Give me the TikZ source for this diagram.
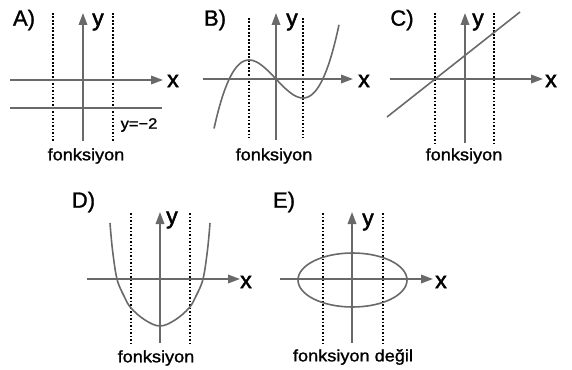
\documentclass[tikz,border=0pt]{standalone}
\usepackage{fontspec}
\setmainfont{Liberation Sans}
\newfontfamily\capfont[FakeStretch=1.1, FakeBold=1.3]{Liberation Sans}
\newfontfamily\headfont[FakeBold=1.3]{Liberation Sans}
\newfontfamily\axfont[FakeBold=2.2]{Liberation Sans}
\usetikzlibrary{arrows.meta}
\definecolor{axisgray}{RGB}{105,105,105}
\begin{document}
\begin{tikzpicture}[x=1pt,y=-1pt,
  axis/.style={draw=axisgray, line width=1.8pt, -{Triangle[length=12pt,width=8.5pt]}},
  plain/.style={draw=axisgray, line width=1.8pt},
  curve/.style={draw=axisgray, line width=1.6pt},
  dots/.style={draw=black, line width=1.5pt, dash pattern=on 1.8pt off 1.7pt},
  lbl/.style={font=\headfont\fontsize{22}{24}\selectfont, inner sep=0pt},
  axlbl/.style={font=\axfont\fontsize{23}{25}\selectfont, inner sep=0pt},
  captxt/.style={font=\capfont\fontsize{16.5}{18}\selectfont, inner sep=0pt},
  smalltxt/.style={font=\capfont\fontsize{15}{17}\selectfont, inner sep=0pt}]
\useasboundingbox (0,0) rectangle (572,369);

% ---------- A ----------
\draw[dots] (53,13) -- (53,142);
\draw[dots] (113,13) -- (113,142);
\draw[plain] (10,108) -- (162,108);
\draw[axis] (10,80) -- (163,80);
\draw[axis] (83,141) -- (83,13);
\node[lbl] (labA) at (24,20) {A)};
\node[axlbl] (Ax) at (173,81) {x};
\node[axlbl] (Ay) at (98,22) {y};
\node[smalltxt] (Am) at (139,125) {y=−2};
\node[captxt] (Acap) at (86,156) {fonksiyon};

% ---------- B ----------
\draw[dots] (249,18) -- (249,138);
\draw[dots] (303,18) -- (303,138);
\draw[axis] (203,79) -- (353,79);
\draw[axis] (276,140) -- (276,13);
\draw[curve] plot[domain=-2.296:2.333, samples=80, smooth]
  ({276+27*\x}, {79-9.5*(\x*\x*\x-3*\x)});
\node[lbl] (labB) at (215,20) {B)};
\node[axlbl] (Bx) at (364,81) {x};
\node[axlbl] (By) at (292,22) {y};
\node[captxt] (Bcap) at (274,156) {fonksiyon};

% ---------- C ----------
\draw[dots] (435,13) -- (435,143);
\draw[dots] (494,13) -- (494,143);
\draw[axis] (390,79) -- (543,79);
\draw[axis] (465,143) -- (465,13);
\draw[curve] (387,117) -- (520,12);
\node[lbl] (labC) at (402,20) {C)};
\node[axlbl] (Cx) at (551,81) {x};
\node[axlbl] (Cy) at (478,22) {y};
\node[captxt] (Ccap) at (464,156) {fonksiyon};

% ---------- D ----------
\draw[dots] (131,213) -- (131,345);
\draw[dots] (190,213) -- (190,345);
\draw[axis] (87,279) -- (240,279);
\draw[axis] (160,343) -- (160,212);
\draw[curve] plot[smooth, tension=0.6] coordinates
  {(110,223) (112.5,250) (117,279) (124,296) (131,308) (145,320) (160,326)
   (175,320) (189,308) (196,296) (203,279) (207.5,250) (210,223)};
\node[lbl] (labD) at (83.5,202) {D)};
\node[axlbl] (Dx) at (246,282) {x};
\node[axlbl] (Dy) at (172,220) {y};
\node[captxt] (Dcap) at (156,358) {fonksiyon};

% ---------- E ----------
\draw[dots] (323,213) -- (323,345);
\draw[dots] (383,213) -- (383,345);
\draw[axis] (280,279) -- (433,279);
\draw[axis] (352,343) -- (352,212);
\draw[curve] (352.5,280) ellipse [x radius=54.5, y radius=27];
\node[lbl] (labE) at (284,202) {E)};
\node[axlbl] (Ex) at (441,282) {x};
\node[axlbl] (Ey) at (368,222) {y};
\node[captxt] (Ecap) at (353,357) {fonksiyon değil};
\end{tikzpicture}
\end{document}
